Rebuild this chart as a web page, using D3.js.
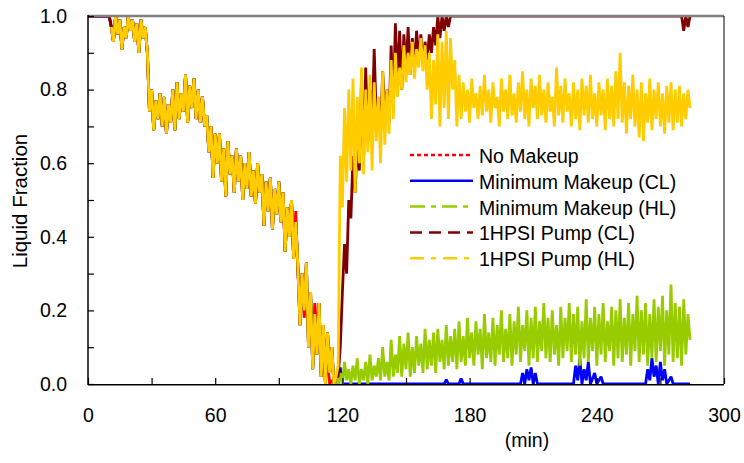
<!DOCTYPE html>
<html>
<head>
<meta charset="utf-8">
<script src="https://cdn.jsdelivr.net/npm/d3@7"></script>
<style>
  body { margin: 0; background: #fff; }
  text { font-family: "Liberation Sans", Arial, sans-serif; fill: #000; }
</style>
</head>
<body>
<div id="chart"></div>
<script>
// common early transient, one value per minute from t = 0
const earlyFraction = [
  1, 1, 1, 1, 1, 1, 1, 1, 1, 1,
  1, 0.97, 0.93, 1.0, 0.95, 0.99, 0.91, 0.97, 0.94, 1.0,
  0.96, 0.99, 0.93, 0.98, 0.90, 0.99, 0.94, 0.97, 0.90, 0.74,
  0.80, 0.69, 0.77, 0.72, 0.79, 0.70, 0.78, 0.68, 0.76, 0.71,
  0.80, 0.69, 0.82, 0.72, 0.79, 0.74, 0.84, 0.71, 0.81, 0.75,
  0.83, 0.72, 0.80, 0.71, 0.78, 0.70, 0.73, 0.63, 0.70, 0.56,
  0.68, 0.60, 0.68, 0.55, 0.64, 0.51, 0.66, 0.57, 0.62, 0.52,
  0.64, 0.55, 0.62, 0.50, 0.60, 0.53, 0.63, 0.51, 0.58, 0.49,
  0.60, 0.52, 0.57, 0.43, 0.55, 0.47, 0.56, 0.42, 0.53, 0.46,
  0.55, 0.44, 0.52, 0.36, 0.48, 0.40, 0.50, 0.34, 0.44, 0.32,
  0.16, 0.30, 0.20, 0.33, 0.10, 0.25, 0.04, 0.19, 0.08, 0.22,
  0.02, 0.16, 0.00, 0.14, 0.03, 0.10, 0.00, 0.02
];

// No Makeup, own tail from t = 98
const noMakeupTail = [
  0.47, 0.30, 0.22, 0.28, 0.18, 0.24, 0.15, 0.20, 0.12, 0.22,
  0.14, 0.18, 0.05, 0.12, 0.02, 0.06, 0.00, 0.01, 0.00
];

// Minimum Makeup (CL) after t = 118, sparse points
const minClMinutes = [118, 119, 120, 168, 169, 170, 175, 176, 177,
  204, 205, 206, 207, 208, 209, 210, 211, 212,
  229, 230, 231, 232, 233, 234, 235, 236, 237, 239, 240, 242, 243,
  263, 264, 265, 266, 267, 268, 269, 270, 271, 272, 273, 275, 276, 284];
const minClValues = [0, 0.045, 0, 0, 0.012, 0, 0, 0.015, 0,
  0, 0.03, 0, 0.04, 0.01, 0.045, 0, 0.03, 0,
  0, 0.05, 0.01, 0.07, 0, 0.04, 0.01, 0.06, 0, 0.03, 0, 0.02, 0,
  0, 0.04, 0.01, 0.07, 0.02, 0.05, 0, 0.06, 0.01, 0.04, 0, 0.02, 0, 0];

// Minimum Makeup (HL), one value per minute from t = 118
const minHlLate = [
  0.00, 0.03, 0.00, 0.06, 0.01, 0.04, 0.00, 0.05, 0.01, 0.07,
  0.00, 0.04, 0.01, 0.06, 0.00, 0.08, 0.01, 0.05, 0.02, 0.07,
  0.01, 0.10, 0.02, 0.06, 0.01, 0.12, 0.02, 0.08, 0.03, 0.13,
  0.02, 0.11, 0.04, 0.14, 0.02, 0.10, 0.03, 0.13, 0.05, 0.11,
  0.03, 0.15, 0.04, 0.12, 0.05, 0.14, 0.03, 0.15, 0.06, 0.12,
  0.04, 0.16, 0.05, 0.13, 0.06, 0.15, 0.04, 0.17, 0.06, 0.13,
  0.05, 0.18, 0.07, 0.14, 0.05, 0.17, 0.08, 0.15, 0.04, 0.19,
  0.07, 0.14, 0.06, 0.18, 0.05, 0.16, 0.08, 0.20, 0.06, 0.15,
  0.07, 0.19, 0.05, 0.17, 0.08, 0.21, 0.06, 0.16, 0.09, 0.20,
  0.05, 0.18, 0.07, 0.21, 0.06, 0.17, 0.09, 0.22, 0.07, 0.18,
  0.06, 0.20, 0.08, 0.16, 0.05, 0.21, 0.07, 0.18, 0.09, 0.22,
  0.06, 0.19, 0.08, 0.21, 0.05, 0.17, 0.07, 0.23, 0.06, 0.18,
  0.09, 0.21, 0.05, 0.19, 0.08, 0.22, 0.06, 0.17, 0.09, 0.21,
  0.05, 0.20, 0.07, 0.23, 0.06, 0.18, 0.08, 0.22, 0.05, 0.19,
  0.09, 0.24, 0.06, 0.20, 0.08, 0.22, 0.05, 0.19, 0.07, 0.23,
  0.06, 0.21, 0.09, 0.24, 0.05, 0.20, 0.08, 0.27, 0.06, 0.22,
  0.07, 0.21, 0.05, 0.23, 0.08, 0.19, 0.12
];

// 1HPSI Pump (CL) refill, one value per minute from t = 118
const hpsiClRise = [
  0.02, 0.10, 0.25, 0.38, 0.30, 0.50, 0.45, 0.62, 0.52, 0.66,
  0.58, 0.82, 0.62, 0.86, 0.66, 0.80, 0.70, 0.91, 0.72, 0.78,
  0.68, 0.85, 0.74, 0.80, 0.71, 0.92, 0.76, 0.98, 0.82, 0.96,
  0.80, 0.95, 0.85, 0.97, 0.84, 0.94, 0.86, 0.96, 0.88, 0.95,
  0.87, 0.93, 0.88, 0.95, 0.90, 0.97, 0.92, 1.00, 0.94, 1.00,
  0.96, 1.00, 0.97, 1.00, 1.00
];
const hpsiClTopMinutes = [173, 280, 281, 282, 283, 284];
const hpsiClTopValues = [1, 1, 0.96, 1, 0.97, 1];

// 1HPSI Pump (HL), one value per minute from t = 118
const hpsiHlLate = [
  0.05, 0.62, 0.48, 0.75, 0.55, 0.80, 0.58, 0.83, 0.52, 0.78,
  0.60, 0.86, 0.57, 0.80, 0.63, 0.84, 0.58, 0.82, 0.66, 0.78,
  0.60, 0.85, 0.65, 0.80, 0.68, 0.88, 0.72, 0.90, 0.78, 0.86,
  0.80, 0.92, 0.82, 0.90, 0.84, 0.93, 0.83, 0.91, 0.86, 0.94,
  0.85, 0.92, 0.80, 0.90, 0.72, 0.88, 0.76, 0.95, 0.70, 0.93,
  0.75, 0.96, 0.72, 0.94, 0.80, 0.88, 0.70, 0.84, 0.72, 0.82,
  0.74, 0.80, 0.71, 0.83, 0.75, 0.79, 0.72, 0.81, 0.73, 0.84,
  0.74, 0.80, 0.71, 0.82, 0.75, 0.78, 0.70, 0.83, 0.74, 0.80,
  0.72, 0.84, 0.73, 0.79, 0.71, 0.82, 0.74, 0.85, 0.72, 0.80,
  0.70, 0.83, 0.75, 0.81, 0.72, 0.84, 0.73, 0.80, 0.71, 0.82,
  0.74, 0.78, 0.70, 0.86, 0.73, 0.81, 0.71, 0.83, 0.74, 0.79,
  0.70, 0.82, 0.72, 0.80, 0.69, 0.83, 0.73, 0.81, 0.71, 0.84,
  0.72, 0.79, 0.70, 0.82, 0.73, 0.80, 0.69, 0.83, 0.72, 0.81,
  0.70, 0.85, 0.72, 0.90, 0.71, 0.82, 0.68, 0.81, 0.72, 0.84,
  0.70, 0.80, 0.67, 0.82, 0.66, 0.79, 0.71, 0.83, 0.69, 0.80,
  0.72, 0.82, 0.70, 0.79, 0.68, 0.81, 0.71, 0.82, 0.69, 0.80,
  0.71, 0.81, 0.70, 0.79, 0.72, 0.80, 0.75
];

const seriesNames = ["No Makeup", "Minimum Makeup (CL)", "Minimum Makeup (HL)", "1HPSI Pump (CL)", "1HPSI Pump (HL)"];
const seriesColors = ["#ff0000", "#0000ff", "#99cc00", "#800000", "#ffcc00"];
const seriesDashes = ["4,3", null, "15,6,5,6", "12,7", "14,7,5,7"];
const xTicks = [0, 60, 120, 180, 240, 300];
const xMinorTicks = [30, 90, 150, 210, 270];
const yTicks = [0, 0.2, 0.4, 0.6, 0.8, 1.0];
const yMinorTicks = [0.1, 0.3, 0.5, 0.7, 0.9];

// helpers to turn the arrays into points
function seq(start, values) {
  return values.map((v, i) => ({ t: start + i, v: v }));
}
function pairs(ts, vs) {
  return ts.map((t, i) => ({ t: t, v: vs[i] }));
}

const series = [
  seq(0, earlyFraction.slice(0, 98)).concat(seq(98, noMakeupTail)),
  seq(0, earlyFraction).concat(pairs(minClMinutes, minClValues)),
  seq(11, earlyFraction.slice(11)).concat(seq(118, minHlLate)),
  seq(0, earlyFraction).concat(seq(118, hpsiClRise), pairs(hpsiClTopMinutes, hpsiClTopValues)),
  seq(11, earlyFraction.slice(11)).concat(seq(118, hpsiHlLate))
];

const width = 744, height = 463;
const plotLeft = 88, plotRight = 724, plotTop = 16, plotBottom = 384;

const svg = d3.select("#chart").append("svg")
  .attr("width", width)
  .attr("height", height);

const x = d3.scaleLinear().domain([0, 300]).range([plotLeft, plotRight]);
const y = d3.scaleLinear().domain([0, 1]).range([plotBottom, plotTop]);

svg.append("defs").append("clipPath").attr("id", "plotclip")
  .append("rect")
  .attr("x", plotLeft).attr("y", plotTop)
  .attr("width", plotRight - plotLeft).attr("height", plotBottom - plotTop);

// data lines
const line = d3.line().x(d => x(d.t)).y(d => y(d.v));
svg.append("g").attr("clip-path", "url(#plotclip)")
  .selectAll("path")
  .data(series)
  .enter()
  .append("path")
  .attr("d", line)
  .attr("fill", "none")
  .attr("stroke", (d, i) => seriesColors[i])
  .attr("stroke-width", 2.8)
  .attr("stroke-linejoin", "bevel");

// frame
svg.append("line").attr("x1", plotLeft).attr("x2", plotRight).attr("y1", plotTop).attr("y2", plotTop)
  .attr("stroke", "#808080").attr("stroke-width", 2.4);
svg.append("line").attr("x1", plotRight).attr("x2", plotRight).attr("y1", plotTop).attr("y2", plotBottom)
  .attr("stroke", "#000").attr("stroke-width", 1);

// axes, ticks pointing inward
const yAxis = svg.append("g").attr("transform", `translate(${plotLeft},0)`)
  .call(d3.axisLeft(y).tickValues(yTicks).tickFormat(d3.format(".1f")).tickSize(-6).tickPadding(21));
const yMinor = svg.append("g").attr("transform", `translate(${plotLeft},0)`)
  .call(d3.axisLeft(y).tickValues(yMinorTicks).tickFormat(() => "").tickSize(-6));
const xAxis = svg.append("g").attr("transform", `translate(0,${plotBottom})`)
  .call(d3.axisBottom(x).tickValues(xTicks).tickFormat(d3.format("d")).tickSize(-6).tickPadding(24));
const xMinor = svg.append("g").attr("transform", `translate(0,${plotBottom})`)
  .call(d3.axisBottom(x).tickValues(xMinorTicks).tickFormat(() => "").tickSize(-6));

[yAxis, yMinor, xAxis, xMinor].forEach(g => {
  g.select(".domain").remove();
  g.selectAll(".tick line").attr("stroke", "#000").attr("stroke-width", 1.2);
  g.selectAll(".tick text").attr("font-size", 19.5).attr("font-family", "Liberation Sans, Arial, sans-serif");
});

svg.append("line").attr("x1", plotLeft).attr("x2", plotLeft).attr("y1", plotTop - 1).attr("y2", plotBottom + 1)
  .attr("stroke", "#000").attr("stroke-width", 1.5);
svg.append("line").attr("x1", plotLeft).attr("x2", plotRight).attr("y1", plotBottom + 0.75).attr("y2", plotBottom + 0.75)
  .attr("stroke", "#000").attr("stroke-width", 1.5);

// axis titles
svg.append("text")
  .attr("transform", `translate(27,201) rotate(-90)`)
  .attr("text-anchor", "middle")
  .attr("font-size", 20.5)
  .text("Liquid Fraction");
svg.append("text")
  .attr("x", 527).attr("y", 447)
  .attr("text-anchor", "middle")
  .attr("font-size", 19.5)
  .text("(min)");

// legend
const legend = svg.append("g");
const row = legend.selectAll("g")
  .data(seriesNames)
  .enter()
  .append("g")
  .attr("transform", (d, i) => `translate(410,${155 + i * 25.8})`);
row.append("line")
  .attr("x1", 0).attr("x2", 63)
  .attr("stroke", (d, i) => seriesColors[i])
  .attr("stroke-width", 2.5)
  .attr("stroke-dasharray", (d, i) => seriesDashes[i]);
row.append("text")
  .attr("x", 69).attr("y", 1)
  .attr("dominant-baseline", "central")
  .attr("font-size", 19.5)
  .text(d => d);
</script>
</body>
</html>
